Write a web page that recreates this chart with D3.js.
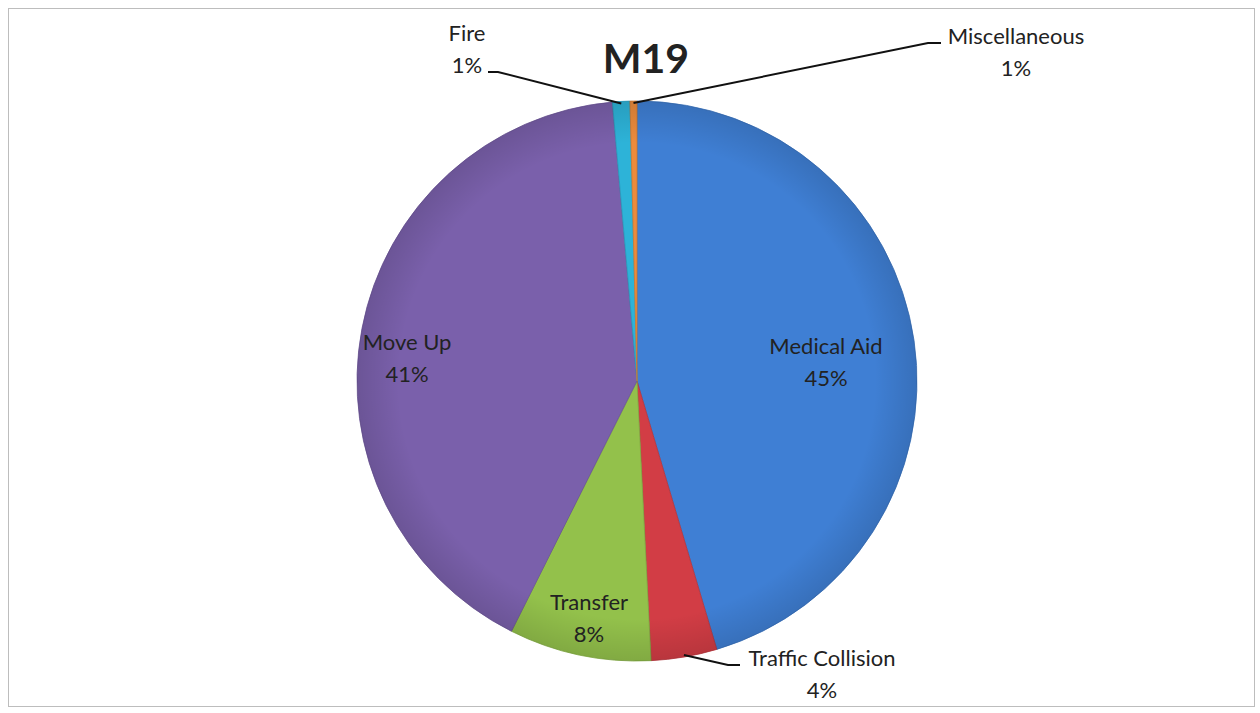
<!DOCTYPE html>
<html>
<head>
<meta charset="utf-8">
<script src="https://cdnjs.cloudflare.com/ajax/libs/d3/7.8.5/d3.min.js"></script>
<style>
  body { margin: 0; background: #fff; }
  svg { display: block; font-family: Lato, "Open Sans", sans-serif; }
</style>
</head>
<body>
<svg id="chart" width="1260" height="713"></svg>
<script>
// Data
var categories = ["Medical Aid", "Traffic Collision", "Transfer", "Move Up", "Fire", "Miscellaneous"];
var values = [45.4, 3.8, 8.2, 41.2, 1.0, 0.4];
var pctLabels = ["45%", "4%", "8%", "41%", "1%", "1%"];
var colors = ["#3f7fd4", "#d23d45", "#93c14b", "#7a60ab", "#2db3d8", "#ec8b3c"];

var width = 1260, height = 713;
var cx = 637, cy = 381, radius = 280;

var svg = d3.select("#chart");

// frame
svg.append("rect")
    .attr("x", 8.5).attr("y", 8.5)
    .attr("width", 1246).attr("height", 698)
    .attr("fill", "none")
    .attr("stroke", "#bdbdbd")
    .attr("stroke-width", 1);

// title
svg.append("text")
    .attr("x", 646).attr("y", 73)
    .attr("text-anchor", "middle")
    .attr("font-size", 41)
    .attr("font-weight", "bold")
    .attr("fill", "#222")
    .text("M19");

var data = categories.map(function(c, i) {
    return { name: c, value: values[i], label: pctLabels[i], color: colors[i] };
});

var pie = d3.pie()
    .sort(null)
    .value(function(d) { return d.value; });

var arc = d3.arc().innerRadius(0).outerRadius(radius);

var arcs = pie(data);

var g = svg.append("g")
    .attr("transform", "translate(" + cx + "," + cy + ")");

g.selectAll("path.slice")
    .data(arcs)
    .enter()
    .append("path")
    .attr("class", "slice")
    .attr("d", arc)
    .attr("fill", function(d) { return d.data.color; })
    .attr("stroke", function(d) { return d3.color(d.data.color).darker(0.4); })
    .attr("stroke-width", 0.8);

// soft shading over the pie
var defs = svg.append("defs");
var grad = defs.append("radialGradient")
    .attr("id", "shade")
    .attr("cx", "50%").attr("cy", "50%").attr("r", "50%");
grad.append("stop").attr("offset", "85%").attr("stop-color", "#000").attr("stop-opacity", 0);
grad.append("stop").attr("offset", "100%").attr("stop-color", "#000").attr("stop-opacity", 0.12);
g.append("circle")
    .attr("r", radius)
    .attr("fill", "url(#shade)")
    .attr("pointer-events", "none");

// label layout: inside labels and outside labels with leaders
var inside = {
    "Medical Aid": [826, 354],
    "Move Up": [407, 350],
    "Transfer": [589, 610]
};
var outside = {
    "Fire": { text: [467, 41], elbow: [498, 72], end: [488, 72] },
    "Miscellaneous": { text: [1016, 44], elbow: [928, 43], end: [941, 43] },
    "Traffic Collision": { text: [822, 666], elbow: [728, 665], end: [740, 665] }
};

var fs = 22;

arcs.forEach(function(d) {
    var name = d.data.name;
    if (inside[name]) {
        var p = inside[name];
        var t = svg.append("text")
            .attr("text-anchor", "middle")
            .attr("font-size", fs)
            .attr("fill", "#222");
        t.append("tspan").attr("x", p[0]).attr("y", p[1]).text(name);
        t.append("tspan").attr("x", p[0]).attr("y", p[1] + 32).text(d.data.label);
    } else if (outside[name]) {
        var o = outside[name];
        var mid = (d.startAngle + d.endAngle) / 2;
        var sx = cx + Math.sin(mid) * (radius - 2);
        var sy = cy - Math.cos(mid) * (radius - 2);
        svg.append("path")
            .attr("d", "M" + sx + "," + sy + "L" + o.elbow[0] + "," + o.elbow[1] + "L" + o.end[0] + "," + o.end[1])
            .attr("fill", "none")
            .attr("stroke", "#111")
            .attr("stroke-width", 2);
        var t2 = svg.append("text")
            .attr("text-anchor", "middle")
            .attr("font-size", fs)
            .attr("fill", "#222");
        t2.append("tspan").attr("x", o.text[0]).attr("y", o.text[1]).text(name);
        t2.append("tspan").attr("x", o.text[0]).attr("y", o.text[1] + 32).text(d.data.label);
    }
});
</script>
</body>
</html>
